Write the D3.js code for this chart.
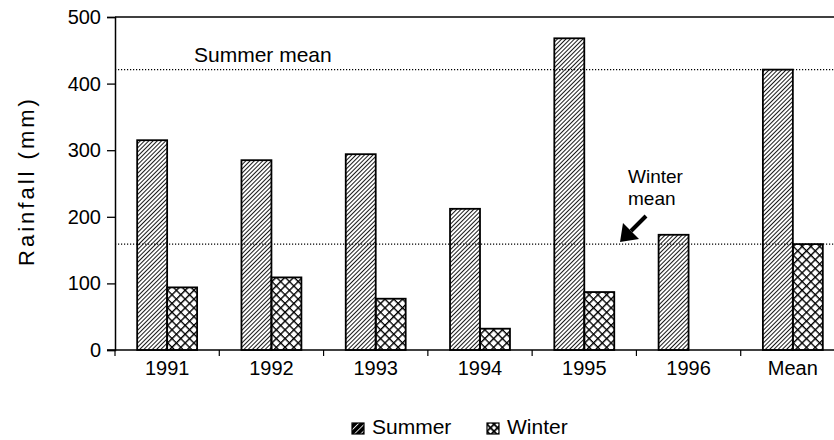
<!DOCTYPE html>
<html>
<head>
<meta charset="utf-8">
<script src="https://cdn.jsdelivr.net/npm/d3@7"></script>
<style>
  body { margin: 0; background: #fff; }
  svg { display: block; font-family: "Liberation Sans", Arial, sans-serif; }
</style>
</head>
<body>
<figure id="rain" style="margin:0"></figure>
<script>
const categories = ["1991", "1992", "1993", "1994", "1995", "1996", "Mean"];
const seasons = ["Summer", "Winter"];
const summer = [315, 285, 294, 212, 468, 173, 421];
const winter = [94, 109, 77, 32, 87, null, 159];
const yTicks = [0, 100, 200, 300, 400, 500];
const summerMean = 421;
const winterMean = 159;

const width = 834, height = 440;
const plotLeft = 115, plotRight = 845, plotTop = 17, plotBottom = 350;

const svg = d3.select("figure#rain")
  .append("svg")
  .attr("width", width)
  .attr("height", height);

// hatch patterns
const defs = svg.append("defs");
defs.append("pattern")
  .attr("id", "hatch")
  .attr("patternUnits", "userSpaceOnUse")
  .attr("width", 3).attr("height", 3)
  .attr("patternTransform", "rotate(45)")
  .append("line")
  .attr("x1", 0).attr("y1", 0).attr("x2", 0).attr("y2", 3)
  .attr("stroke", "#000").attr("stroke-width", 1.8);

const cross = defs.append("pattern")
  .attr("id", "cross")
  .attr("patternUnits", "userSpaceOnUse")
  .attr("width", 6.2).attr("height", 6.2)
  .attr("patternTransform", "rotate(45)");
cross.append("path")
  .attr("d", "M0,0V6.2M0,0H6.2")
  .attr("stroke", "#000").attr("stroke-width", 2.8);

const legHatch = defs.append("pattern")
  .attr("id", "legHatch")
  .attr("patternUnits", "userSpaceOnUse")
  .attr("width", 4.5).attr("height", 4.5)
  .attr("patternTransform", "rotate(45)");
legHatch.append("rect").attr("width", 4.5).attr("height", 4.5).attr("fill", "#000");
legHatch.append("line")
  .attr("x1", 0).attr("y1", 0).attr("x2", 0).attr("y2", 4.5)
  .attr("stroke", "#fff").attr("stroke-width", 1.6);

const legCross = defs.append("pattern")
  .attr("id", "legCross")
  .attr("patternUnits", "userSpaceOnUse")
  .attr("width", 5).attr("height", 5)
  .attr("patternTransform", "rotate(45)");
legCross.append("rect").attr("width", 5).attr("height", 5).attr("fill", "#fff");
legCross.append("path")
  .attr("d", "M0,0V5M0,0H5")
  .attr("stroke", "#000").attr("stroke-width", 3.4);

const x = d3.scaleBand()
  .domain(categories)
  .range([plotLeft, plotRight]);

const xInner = d3.scaleBand()
  .domain(seasons)
  .range([0, x.bandwidth()])
  .paddingOuter(0.74);

const y = d3.scaleLinear()
  .domain([0, 500])
  .range([plotBottom, plotTop]);

const fills = {Summer: "url(#hatch)", Winter: "url(#cross)"};

const rows = categories.map((c, i) => ({
  cat: c,
  values: [{key: "Summer", v: summer[i]}, {key: "Winter", v: winter[i]}]
}));

// mean lines
svg.selectAll(".mean")
  .data([summerMean, winterMean])
  .enter()
  .append("line")
  .attr("x1", plotLeft).attr("x2", width)
  .attr("y1", d => y(d)).attr("y2", d => y(d))
  .attr("stroke", "#000")
  .attr("stroke-width", 1.2)
  .attr("stroke-dasharray", "1.2,1.8");

// bars
svg.selectAll(".group")
  .data(rows)
  .enter()
  .append("g")
  .attr("transform", d => "translate(" + x(d.cat) + ",0)")
  .selectAll("rect")
  .data(d => d.values.filter(v => v.v != null))
  .enter()
  .append("rect")
  .attr("x", d => xInner(d.key))
  .attr("width", xInner.bandwidth())
  .attr("y", d => y(d.v))
  .attr("height", d => y(0) - y(d.v))
  .attr("fill", d => fills[d.key])
  .attr("stroke", "#000")
  .attr("stroke-width", 1.8);

// frame top
svg.append("line")
  .attr("x1", plotLeft).attr("x2", plotRight)
  .attr("y1", plotTop).attr("y2", plotTop)
  .attr("stroke", "#000").attr("stroke-width", 1.5);

// y axis
const yAxis = svg.append("g")
  .attr("transform", "translate(" + plotLeft + ",0)")
  .call(d3.axisLeft(y).tickValues(yTicks).tickSize(8).tickPadding(6));
yAxis.select(".domain").attr("stroke-width", 1.5);
yAxis.selectAll(".tick line").attr("stroke-width", 1.3);
yAxis.selectAll("text")
  .attr("font-size", 20)
  .attr("font-family", "Liberation Sans, Arial, sans-serif")
  .attr("fill", "#000");

// x axis: labels centred, ticks at band edges
const xAxis = svg.append("g")
  .attr("transform", "translate(0," + plotBottom + ")")
  .call(d3.axisBottom(x).tickSize(0).tickPadding(11));
xAxis.select(".domain").remove();
xAxis.selectAll("text")
  .attr("font-size", 20)
  .attr("font-family", "Liberation Sans, Arial, sans-serif")
  .attr("fill", "#000");

svg.append("line")
  .attr("x1", plotLeft - 8).attr("x2", width)
  .attr("y1", plotBottom).attr("y2", plotBottom)
  .attr("stroke", "#000").attr("stroke-width", 1.6);

svg.selectAll(".xtick")
  .data(categories)
  .enter()
  .append("line")
  .attr("x1", d => x(d)).attr("x2", d => x(d))
  .attr("y1", plotBottom).attr("y2", plotBottom + 6)
  .attr("stroke", "#000").attr("stroke-width", 1.2);

// y label
svg.append("text")
  .attr("transform", "translate(34,181) rotate(-90)")
  .attr("text-anchor", "middle")
  .attr("font-size", 22)
  .attr("letter-spacing", 3)
  .text("Rainfall (mm)");

// annotations
svg.append("text")
  .attr("x", 194).attr("y", y(summerMean) - 8)
  .attr("font-size", 21)
  .text("Summer mean");

const wt = svg.append("text")
  .attr("x", 628).attr("y", 183)
  .attr("font-size", 19);
wt.append("tspan").attr("x", 628).text("Winter");
wt.append("tspan").attr("x", 628).attr("dy", 22).text("mean");

svg.append("line")
  .attr("x1", 646).attr("y1", 216)
  .attr("x2", 631).attr("y2", 231)
  .attr("stroke", "#000").attr("stroke-width", 4);
svg.append("path")
  .attr("d", "M620,242 L623,223 L639,239 Z")
  .attr("fill", "#000");

// legend
const legend = svg.append("g").attr("transform", "translate(352,423)");
const legItems = [
  {label: "Summer", fill: "url(#legHatch)", x: 0},
  {label: "Winter", fill: "url(#legCross)", x: 135}
];
const li = legend.selectAll("g")
  .data(legItems)
  .enter()
  .append("g")
  .attr("transform", d => "translate(" + d.x + ",0)");
li.append("rect")
  .attr("width", 12).attr("height", 11)
  .attr("fill", d => d.fill)
  .attr("stroke", "#000").attr("stroke-width", 1.2);
li.append("text")
  .attr("x", 20).attr("y", 11)
  .attr("font-size", 21)
  .text(d => d.label);
</script>
</body>
</html>
